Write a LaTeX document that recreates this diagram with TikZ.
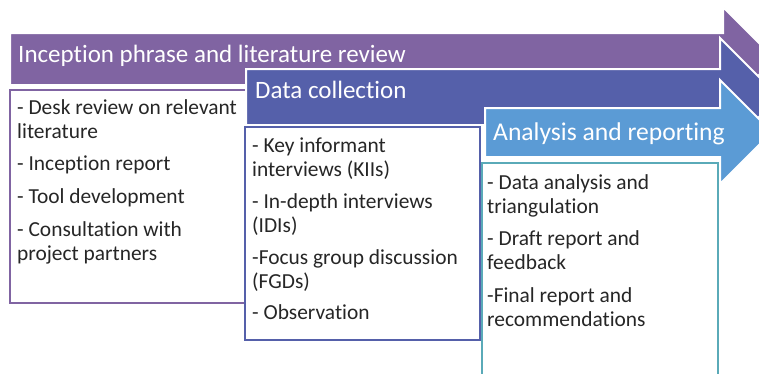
\documentclass[tikz,border=0pt]{standalone}
\usepackage{fontspec}
\setmainfont{Carlito}[Ligatures={NoCommon}]
\definecolor{purp}{HTML}{8064A2}
\definecolor{midblue}{HTML}{5560AA}
\definecolor{ltblue}{HTML}{5B9BD5}
\definecolor{tealb}{HTML}{5AAAB8}
\definecolor{txt}{HTML}{262626}
\begin{document}
\begin{tikzpicture}[x=1pt,y=-1pt,
  arrowshape/.style={draw=white,line width=2pt,line join=miter},
  boxframe/.style={line width=2.5pt,fill=white},
  titletext/.style={text=white,font=\fontsize{25}{30}\selectfont,anchor=base west,inner sep=0pt},
  bodytext/.style={text=txt,font=\fontsize{21.4}{24}\selectfont,align=left,anchor=north west,inner sep=0pt}]
\clip (0,0) rectangle (759,373);
\fill[white] (0,0) rectangle (759,373);
% phase 1
\path[arrowshape,fill=purp] (10,33) -- (723,33) -- (723,7) -- (775,59) -- (723,111) -- (723,85) -- (10,85) -- cycle;
\node[titletext] (t1) at (18,62) {Inception phrase and literature review};
\draw[boxframe,draw=purp] (10,90) rectangle (247,303);
\node[bodytext] (l1) at (17,96) {\rule{0pt}{18pt}- Desk review on relevant\\literature\\[8pt]- Inception report\\[9pt]- Tool development\\[9pt]- Consultation with\\project partners};
% phase 2
\path[arrowshape,fill=midblue] (246,69) -- (720,69) -- (720,38) -- (779,97) -- (720,156) -- (720,125) -- (246,125) -- cycle;
\node[titletext] (t2) at (255,98) {Data collection};
\draw[boxframe,draw=midblue] (245,127) rectangle (480,340);
\node[bodytext] (l2) at (252,134) {\rule{0pt}{18pt}- Key informant\\interviews (KIIs)\\[8pt]- In-depth interviews\\(IDIs)\\[8pt]-Focus group discussion\\(FGDs)\\[7pt]- Observation};
% phase 3
\path[arrowshape,fill=ltblue] (485,108) -- (720,108) -- (720,80) -- (772,132) -- (720,184) -- (720,157) -- (485,157) -- cycle;
\node[titletext,font=\fontsize{25.6}{30}\selectfont] (t3) at (493,140) {Analysis and reporting};
\draw[boxframe,draw=tealb] (482,163) rectangle (718,390);
\node[bodytext] (l3) at (487,171) {\rule{0pt}{18pt}- Data analysis and\\triangulation\\[8pt]- Draft report and\\feedback\\[9pt]-Final report and\\recommendations};
\end{tikzpicture}
\end{document}
